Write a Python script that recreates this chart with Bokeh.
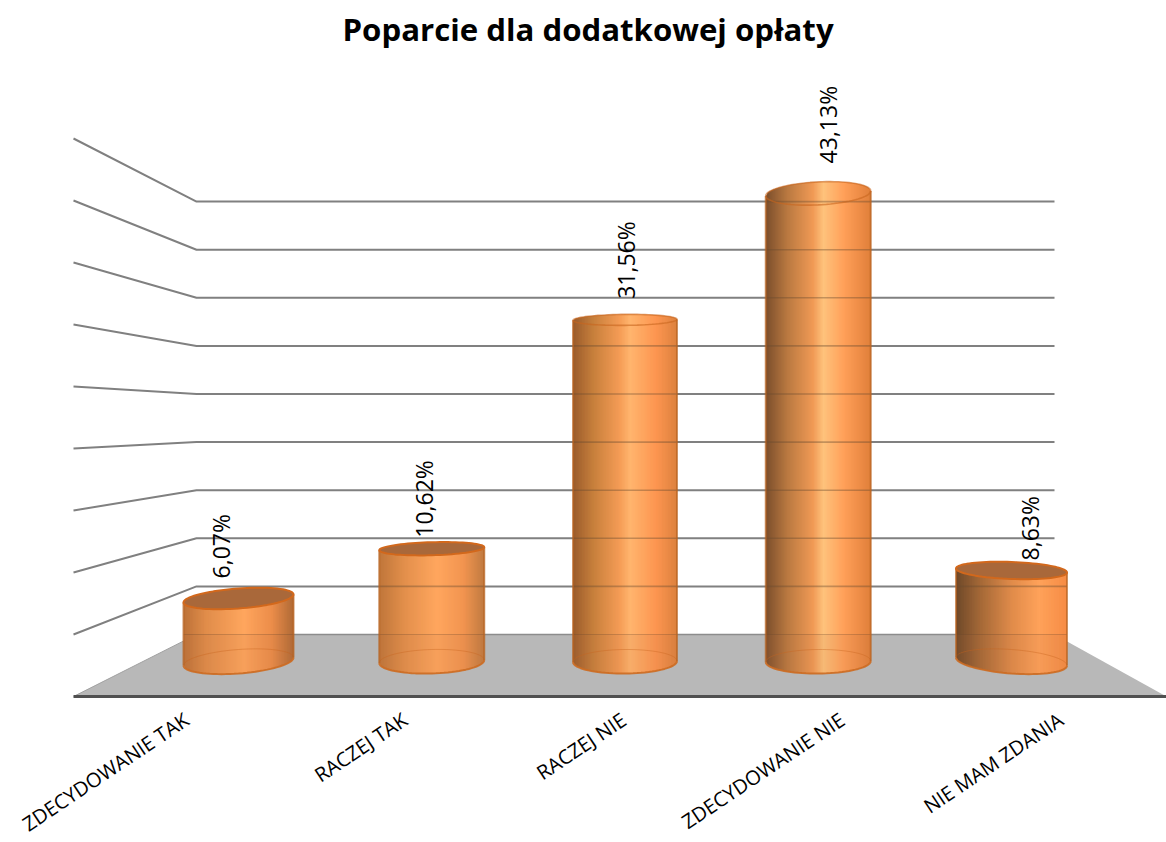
import math
from bokeh.plotting import figure
from bokeh.embed import file_html
from bokeh.resources import INLINE
from bokeh.models import Range1d, LinearAxis, FixedTicker
from bokeh.core.properties import value as bv

# ---- data ----
categories = ["ZDECYDOWANIE TAK", "RACZEJ TAK", "RACZEJ NIE", "ZDECYDOWANIE NIE", "NIE MAM ZDANIA"]
values = [6.07, 10.62, 31.56, 43.13, 8.63]
grid_levels = [5, 10, 15, 20, 25, 30, 35, 40, 45]
title_text = "Poparcie dla dodatkowej opłaty"

# ---- projection / layout (screen px per unit, at three depths) ----
FRAME_TOP = 54
FRAME_BOTTOM = 696
SX = 193.25      # px per category in the bars' plane
SY = 10.93       # px per percent in the bars' plane
X0_PX = 238      # category 0 in the bars' plane
Y0_PX = 664.3    # value 0 in the bars' plane
BASE_LIFT = 3.3  # the cylinders' feet sit slightly above that plane's zero
FSX = 218.6      # px per category along the front edge
FX0_PX = 186

def dx(px):
    return px / SX
def dy(px):
    return px / SY
def xpx(px):
    return (px - X0_PX) / SX
def ypx(px):
    return (Y0_PX - px) / SY
def back_y(v):
    return ypx(634 - 9.62 * v)
def front_y(v):
    return ypx(696 - 12.4 * v)

BACK_L, BACK_R = xpx(196), xpx(1054)
FRONT_L, FRONT_R = xpx(73), xpx(1166)

# per-cylinder style: half width, cap half height, cap tilt, base tilt, cap mode, gradient
half_w = [55, 52.5, 52, 52.5, 55.5]
cap_b = [10, 6.5, 5.5, 11.5, 8.5]
cap_t = [4, 1.5, 0.5, 2.5, -2]
base_t = [4, 1.5, 0.5, 0.5, -4]
BASE_B = 12
cap_fill = ["#a9683a", "#a9683a", None, None, "#a9683a"]
gradients = [
    [(0, "#bc7238"), (.2, "#e08c4a"), (.55, "#ffa65e"), (.8, "#ec8d4a"), (1, "#b06a36")],
    [(0, "#c0763a"), (.25, "#e4904c"), (.55, "#ffa65e"), (.8, "#f29450"), (1, "#c07a40")],
    [(0, "#9a5c2c"), (.2, "#c8803c"), (.45, "#f59c56"), (.55, "#ffb56e"), (.8, "#fd9550"), (1, "#dc823e")],
    [(0, "#7a4d2c"), (.2, "#b87840"), (.45, "#f09a55"), (.55, "#fec27c"), (.75, "#ff9f58"), (1, "#e07f3a")],
    [(0, "#6e4829"), (.2, "#a06636"), (.5, "#e08b4a"), (.75, "#ffa25a"), (1, "#f68c45")],
]
label_dx = [-18, -8, 1, 10, 18]
label_dy = [20, 11, 21, 30, 10]

def mix(stops, u):
    for (p0, c0), (p1, c1) in zip(stops, stops[1:]):
        if u <= p1:
            f = (u - p0) / (p1 - p0)
            a = [int(c0[i:i + 2], 16) for i in (1, 3, 5)]
            b = [int(c1[i:i + 2], 16) for i in (1, 3, 5)]
            return "#%02x%02x%02x" % tuple(round(x + (y - x) * f) for x, y in zip(a, b))
    return stops[-1][1]

p = figure(frame_width=1166, frame_height=FRAME_BOTTOM - FRAME_TOP,
           x_range=Range1d(xpx(0), xpx(1166)),
           y_range=Range1d(ypx(FRAME_BOTTOM), ypx(FRAME_TOP)),
           output_backend="svg", toolbar_location=None,
           x_axis_location=None, y_axis_location=None,
           min_border=0, outline_line_color=None,
           title=title_text)
p.title.align = "left"
p.title.offset = 342
p.title.text_font = "Open Sans"
p.title.text_font_style = "bold"
p.title.text_font_size = "31.2px"
p.title.text_color = "#000000"
p.grid.visible = False
p.background_fill_color = "#ffffff"
p.border_fill_color = "#ffffff"

# floor
p.patch([BACK_L, BACK_R, FRONT_R, FRONT_L], [back_y(0), back_y(0), front_y(0), front_y(0)],
        fill_color="#b8b8b8", line_color=None)
p.line([BACK_L, BACK_R], [back_y(0), back_y(0)], line_color="#8c8c8c", line_width=1.5)
p.line([FRONT_L, BACK_L], [front_y(0), back_y(0)], line_color="#a0a0a0", line_width=1)

# wall gridlines
for v in grid_levels:
    p.line([FRONT_L, BACK_L, BACK_R], [front_y(v), back_y(v), back_y(v)],
           line_color="#808080", line_width=2)

# cylinders
N = 70
foot = dy(BASE_LIFT)
for i, v in enumerate(values):
    a = dx(half_w[i])
    xs, ys, cols = [], [], []
    def upper(u):
        return v + dy(cap_t[i] * u + cap_b[i] * math.sqrt(max(0, 1 - u * u)))
    def lower(u):
        return foot + dy(base_t[i] * u - BASE_B * math.sqrt(max(0, 1 - u * u)))
    for j in range(N):
        u0, u1 = -1 + 2 * j / N, -1 + 2 * (j + 1) / N
        u2 = min(1, u1 + 2 / N)   # overlap into the next strip so no seams show
        xs.append([i + a * u0, i + a * u2, i + a * u2, i + a * u0])
        ys.append([upper(u0), upper(u2), lower(u2), lower(u0)])
        cols.append(mix(gradients[i], (j + .5) / N))
    p.patches(xs, ys, fill_color=cols, line_color=None)

    # the floor and the grid shine through the body
    us = [-1 + 2 * j / 60 for j in range(61)]
    fy = back_y(0)
    p.patch([i + a * u for u in us] + [i + a * u for u in reversed(us)],
            [fy] * 61 + [lower(u) for u in reversed(us)],
            fill_color="#b07040", fill_alpha=0.1, line_color=None)
    p.line([i - a, i + a], [fy, fy], line_color="#6a4a30", line_alpha=0.3, line_width=1.2)
    for g in grid_levels:
        gy = back_y(g)
        if gy < upper(0) - dy(cap_b[i]):
            p.line([i - a, i + a], [gy, gy], line_color="#6a4a30", line_alpha=0.4, line_width=1.6)

    # base back arc
    ts = [math.pi * k / 40 for k in range(41)]
    p.line([i + a * math.cos(t) for t in ts],
           [foot + dy(base_t[i] * math.cos(t) + BASE_B * math.sin(t)) for t in ts],
           line_color="#c8651e", line_alpha=0.4, line_width=1)
    # silhouette edges
    p.line([i - a, i - a], [upper(-1), lower(-1)], line_color="#b8621f", line_alpha=0.7, line_width=2)
    p.line([i + a, i + a], [upper(1), lower(1)], line_color="#b8621f", line_alpha=0.7, line_width=2)
    p.line([i + a * math.cos(t) for t in ts],
           [foot + dy(base_t[i] * math.cos(t) - BASE_B * math.sin(t)) for t in ts],
           line_color="#cc6c22", line_alpha=0.9, line_width=2)
    # cap
    ts2 = [2 * math.pi * k / 80 for k in range(81)]
    cx = [i + a * math.cos(t) for t in ts2]
    cy = [v + dy(cap_t[i] * math.cos(t) + cap_b[i] * math.sin(t)) for t in ts2]
    if cap_fill[i]:
        p.patch(cx, cy, fill_color=cap_fill[i], line_color="#d2681c", line_width=2)
    else:
        p.line(cx, cy, line_color="#c8651e", line_alpha=0.6, line_width=1.6)

# value labels
p.text([i + dx(label_dx[i]) for i in range(5)],
       [values[i] + dy(label_dy[i]) for i in range(5)],
       text=[f"{v:.2f}%".replace(".", ",") for v in values],
       angle=math.pi / 2, text_align="left", text_baseline="middle",
       text_font=bv("Open Sans"), text_font_size="23px", text_color="#000000")

# category axis on the floor's front edge
p.extra_x_ranges["front"] = Range1d((0 - FX0_PX) / FSX, (1166 - FX0_PX) / FSX)
axis = LinearAxis(x_range_name="front", ticker=FixedTicker(ticks=list(range(5))),
                  major_label_overrides={k: c for k, c in enumerate(categories)},
                  major_label_orientation=0.59,
                  major_label_text_font="Open Sans", major_label_text_font_size="20px",
                  major_label_text_color="#000000", major_label_standoff=15,
                  major_tick_line_color=None, minor_tick_line_color=None,
                  axis_line_color="#505050", axis_line_width=3,
                  bounds=((73 - FX0_PX) / FSX, (1166 - FX0_PX) / FSX))
p.add_layout(axis, "below")

open("out.html", "w").write(file_html(p, INLINE))
